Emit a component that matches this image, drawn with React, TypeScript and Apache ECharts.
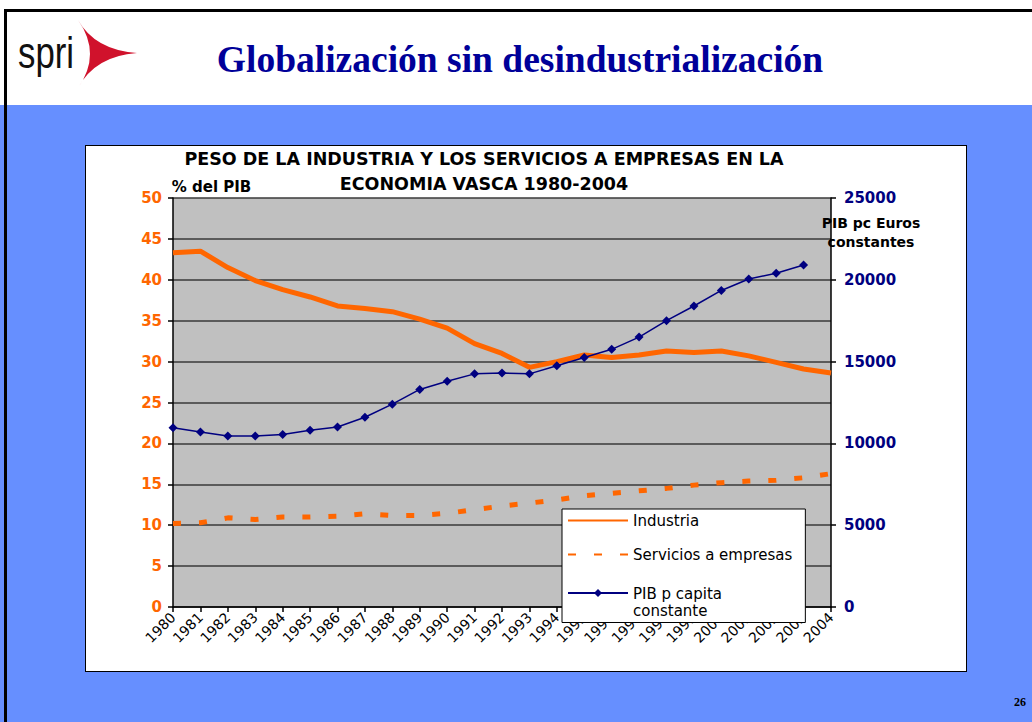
import React, { useEffect, useRef } from 'react';
import * as echarts from 'echarts';

const years = ['1980','1981','1982','1983','1984','1985','1986','1987','1988','1989','1990','1991','1992','1993','1994','1995','1996','1997','1998','1999','2000','2001','2002','2003','2004'];
const industria = [43.3, 43.5, 41.5, 39.9, 38.8, 37.9, 36.8, 36.5, 36.1, 35.2, 34.1, 32.2, 31.0, 29.3, 30.0, 30.8, 30.5, 30.8, 31.3, 31.1, 31.3, 30.7, 29.9, 29.1, 28.6];
const servicios = [10.2, 10.3, 10.9, 10.7, 11.0, 11.0, 11.1, 11.4, 11.2, 11.2, 11.45, 11.9, 12.35, 12.7, 13.1, 13.6, 13.9, 14.2, 14.5, 14.9, 15.2, 15.4, 15.5, 15.8, 16.3];
const pibPc = [10950, 10700, 10450, 10450, 10550, 10800, 11000, 11600, 12400, 13300, 13800, 14250, 14300, 14250, 14750, 15250, 15750, 16500, 17500, 18400, 19350, 20050, 20400, 20900, null];
const leftTicks = { min: 0, max: 50, interval: 5 };
const rightTicks = { min: 0, max: 25000, interval: 5000 };

const SERIES_IND = 'Industria';
const SERIES_SERV = 'Servicios a empresas';
const SERIES_PIB = 'PIB p capita constante';

const ARROW_D = 'M0,0 Q17,30 59,33 Q17,36 0,68 Q24,34 0,0 Z';

export default function App() {
  const ref = useRef<HTMLDivElement>(null);

  useEffect(() => {
    if (!ref.current) return;
    echarts.graphic.registerShape('logo', echarts.graphic.extendPath(ARROW_D, {}));
    const chart = echarts.init(ref.current, undefined, { renderer: 'svg' });
    const font = 'DejaVu Sans';
    chart.setOption({
      animation: false,
      title: {
        text: 'PESO DE LA INDUSTRIA Y LOS SERVICIOS A EMPRESAS EN LA\nECONOMIA VASCA 1980-2004',
        left: 484,
        top: 146,
        textAlign: 'center',
        padding: 0,
        textStyle: { fontFamily: font, fontSize: 17.5, fontWeight: 'bold', color: '#000', lineHeight: 25 },
      },
      grid: {
        left: 173, right: 201, top: 198, bottom: 115,
        show: true, backgroundColor: '#c0c0c0', borderWidth: 0,
      },
      legend: {
        orient: 'vertical',
        left: 562,
        top: 509,
        padding: [3, 13, 4, 5],
        itemGap: 17,
        itemWidth: 60,
        itemHeight: 10,
        backgroundColor: '#fff',
        borderColor: '#000',
        borderWidth: 1,
        textStyle: { fontFamily: font, fontSize: 15, color: '#000', lineHeight: 17 },
        formatter: (name: string) => (name === SERIES_PIB ? 'PIB p capita\nconstante' : name),
        data: [
          { name: SERIES_IND, itemStyle: { opacity: 0 } },
          { name: SERIES_SERV, itemStyle: { opacity: 0 } },
          {
            name: SERIES_PIB,
            textStyle: {
              padding: [5.5, 0, -13.5, 0],
              lineHeight: 17,
              backgroundColor: 'rgba(255,255,255,0)',
              rich: { a: {} },
            },
          },
        ],
      },
      xAxis: {
        type: 'category',
        data: years,
        boundaryGap: false,
        axisLine: { lineStyle: { color: '#000', width: 1.5 } },
        axisTick: { show: true, length: 5, lineStyle: { color: '#000', width: 1.5 } },
        axisLabel: { interval: 0, rotate: 45, margin: 8, fontFamily: font, fontSize: 14, color: '#000' },
      },
      yAxis: [
        {
          type: 'value',
          position: 'left',
          ...leftTicks,
          name: '% del PIB',
          nameLocation: 'end',
          nameGap: 11,
          nameTextStyle: { fontFamily: font, fontSize: 15, fontWeight: 'bold', color: '#000', align: 'center', verticalAlign: 'middle', padding: [0, 0, 0, 77] },
          axisLine: { show: true, lineStyle: { color: '#000', width: 1.5 } },
          axisTick: { show: true, length: 5, lineStyle: { color: '#000', width: 1.5 } },
          splitLine: { show: true, lineStyle: { color: '#3a3a3a', width: 1.5 } },
          axisLabel: { margin: 11, fontFamily: font, fontSize: 15, fontWeight: 'bold', color: '#ff6600' },
        },
        {
          type: 'value',
          position: 'right',
          ...rightTicks,
          name: 'PIB pc Euros\nconstantes',
          nameLocation: 'end',
          nameGap: -34,
          nameTextStyle: { fontFamily: font, fontSize: 14, fontWeight: 'bold', color: '#000', align: 'center', verticalAlign: 'middle', lineHeight: 19, padding: [0, 0, 0, 80] },
          axisLine: { show: true, lineStyle: { color: '#000', width: 1.5 } },
          axisTick: { show: true, length: 5, lineStyle: { color: '#000', width: 1.5 } },
          splitLine: { show: false },
          axisLabel: { margin: 13, fontFamily: font, fontSize: 15, fontWeight: 'bold', color: '#000080', formatter: (v: number) => String(v) },
        },
      ],
      series: [
        {
          name: SERIES_IND, type: 'line', yAxisIndex: 0, data: industria,
          symbol: 'none', color: '#ff6600',
          lineStyle: { color: '#ff6600', width: 5 },
        },
        {
          name: SERIES_SERV, type: 'line', yAxisIndex: 0, data: servicios,
          symbol: 'none', color: '#ff6600',
          lineStyle: { color: '#ff6600', width: 5, type: [8, 18] },
        },
        {
          name: SERIES_PIB, type: 'line', yAxisIndex: 1, data: pibPc,
          symbol: 'diamond', symbolSize: 9, color: '#000080',
          itemStyle: { color: '#000080' },
          lineStyle: { color: '#000080', width: 1.5 },
        },
      ],
      graphic: [
        {
          type: 'text', x: 18, y: 52, scaleX: 0.79,
          style: { text: 'spri', fontFamily: 'Liberation Sans', fontSize: 44, fill: '#111', verticalAlign: 'middle', align: 'left' },
        },
        {
          type: 'logo', x: 78, y: 20, scaleX: 1, scaleY: 1,
          style: { fill: '#d0122c' },
        },
        {
          type: 'text', x: 520, y: 59,
          style: { text: 'Globalización sin desindustrialización', fontFamily: 'Liberation Serif', fontSize: 37.5, fontWeight: 'bold', fill: '#000099', align: 'center', verticalAlign: 'middle' },
        },
        {
          type: 'text', x: 1020, y: 702,
          style: { text: '26', fontFamily: 'Liberation Serif', fontSize: 12, fontWeight: 'bold', fill: '#000', align: 'center', verticalAlign: 'middle' },
        },
      ],
    });
    return () => chart.dispose();
  }, []);

  return (
    <div style={{ position: 'fixed', left: 0, top: 0, width: 1032, height: 722, background: '#fff', overflow: 'hidden' }}>
      <div style={{ position: 'absolute', left: 0, top: 105, width: 1032, height: 617, background: '#668fff' }} />
      <div style={{ position: 'absolute', left: 4, top: 9, width: 1028, height: 3, background: '#000' }} />
      <div style={{ position: 'absolute', left: 4, top: 9, width: 3, height: 713, background: '#000' }} />
      <div style={{ position: 'absolute', left: 85, top: 145, width: 882, height: 527, background: '#fff', border: '1.5px solid #000', boxSizing: 'border-box' }} />
      <div ref={ref} style={{ position: 'absolute', left: 0, top: 0, width: 1032, height: 722 }} />
    </div>
  );
}
